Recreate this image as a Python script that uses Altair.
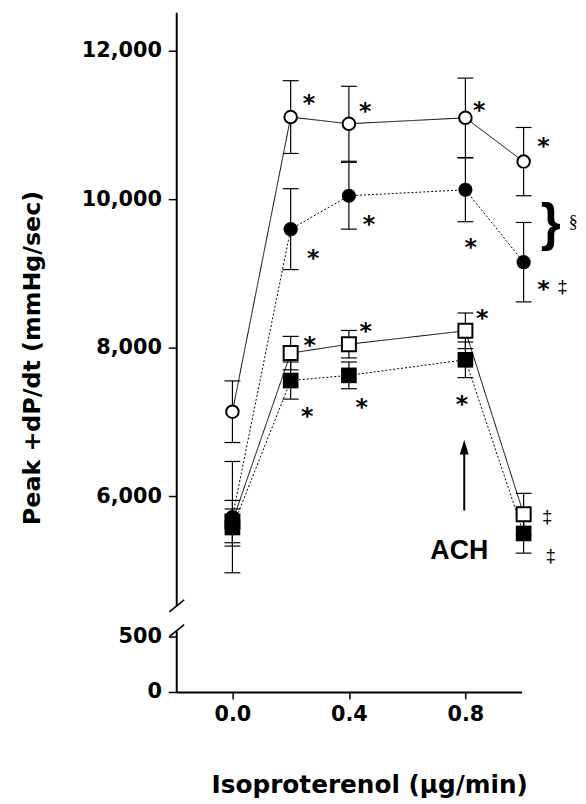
import altair as alt
import pandas as pd

# ---- data ----
x_doses = [0.0, 0.2, 0.4, 0.8, 1.0]
series_names = ["open_circle", "filled_circle", "open_square", "filled_square"]
open_circle_mean = [7140, 11110, 11020, 11100, 10510]
open_circle_sem = [415, 490, 505, 535, 460]
filled_circle_mean = [5720, 9600, 10050, 10130, 9155]
filled_circle_sem = [750, 545, 450, 430, 535]
open_square_mean = [5660, 7930, 8050, 8230, 5760]
open_square_sem = [285, 225, 185, 240, 280]
filled_square_mean = [5580, 7560, 7630, 7840, 5500]
filled_square_sem = [250, 250, 180, 240, 265]

x_ticks = [0.0, 0.4, 0.8]
y_ticks_upper = [6000, 8000, 10000, 12000]
y_ticks_lower = [0, 500]

# annotation anchors (data units)
star_x = [0.263, 0.456, 0.847, 1.068, 0.277, 0.469, 0.818, 1.068, 0.265, 0.458, 0.858, 0.257, 0.444, 0.788]
star_y = [11364, 11253, 11275, 10787, 9275, 9741, 9431, 8853, 8111, 8288, 8464, 7151, 7267, 7311]
dagger_x = [1.133, 1.081, 1.093]
dagger_y = [8800, 5711, 5187]
brace_x = [1.093]
brace_y = [9644]
section_x = [1.155]
section_y = [9684]
ach_x = [0.779]
ach_y = [5261]
arrow_x = [0.796]
arrow_y0 = [5808]
arrow_y1 = [6600]
arrow_head_y = [6664]

rows = []
for name, means, sems in [
    ("open_circle", open_circle_mean, open_circle_sem),
    ("filled_circle", filled_circle_mean, filled_circle_sem),
    ("open_square", open_square_mean, open_square_sem),
    ("filled_square", filled_square_mean, filled_square_sem),
]:
    for xv, m, s in zip(x_doses, means, sems):
        rows.append({"series": name, "x": xv, "y": m, "lo": m - s, "hi": m + s})
df = pd.DataFrame(rows)

stars = pd.DataFrame({"x": star_x, "y": star_y, "t": ["*"] * len(star_x)})
daggers = pd.DataFrame({"x": dagger_x, "y": dagger_y, "t": ["\u2021"] * len(dagger_x)})
brace = pd.DataFrame({"x": brace_x, "y": brace_y, "t": ["}"]})
section = pd.DataFrame({"x": section_x, "y": section_y, "t": ["\u00a7"]})
ach = pd.DataFrame({"x": ach_x, "y": ach_y, "t": ["ACH"]})
arrow = pd.DataFrame({"x": arrow_x, "y": arrow_y0, "y2": arrow_y1, "yh": arrow_head_y})
one = pd.DataFrame({"a": [0]})

W = 349
H_TOP = 600
H_BOT = 62

xscale = alt.Scale(domain=[-0.193, 0.993], nice=False, zero=False)
yscale_top = alt.Scale(domain=[4524, 12524], nice=False, zero=False)
yscale_bot = alt.Scale(domain=[0, 553.6], nice=False, zero=False)

y_axis_top = alt.Axis(
    values=y_ticks_upper, format=",d", title="Peak +dP/dt (mmHg/sec)",
    titleX=-138, titleY=349, titleAlign="center", titleBaseline="alphabetic",
)


def X(field="x:Q"):
    return alt.X(field, scale=xscale, axis=None)


def Y(field):
    return alt.Y(field, scale=yscale_top, axis=y_axis_top)


base = alt.Chart(df)

lines = base.mark_line(color="black", strokeWidth=1).encode(
    x=X(), y=Y("y:Q"), detail="series:N",
    strokeDash=alt.StrokeDash(
        "series:N",
        scale=alt.Scale(domain=series_names, range=[[1, 0], [2, 2], [1, 0], [2, 2]]),
        legend=None,
    ),
)
err = base.mark_rule(color="black", strokeWidth=1.2).encode(x=X(), y=Y("lo:Q"), y2="hi:Q")
cap_hi = base.mark_rule(color="black", strokeWidth=1.2, xOffset=-8, x2Offset=8).encode(
    x=X(), x2="x:Q", y=Y("hi:Q"))
cap_lo = base.mark_rule(color="black", strokeWidth=1.2, xOffset=-8, x2Offset=8).encode(
    x=X(), x2="x:Q", y=Y("lo:Q"))


def pts(name, shape, fill, size):
    return base.transform_filter(alt.datum.series == name).mark_point(
        shape=shape, filled=True, fill=fill, stroke="black",
        strokeWidth=2 if fill == "white" else 0, size=size, opacity=1,
    ).encode(x=X(), y=Y("y:Q"))


p_os = pts("open_square", "square", "white", 200)
p_fs = pts("filled_square", "square", "black", 250)
p_fc = pts("filled_circle", "circle", "black", 205)
p_oc = pts("open_circle", "circle", "white", 160)

t_stars = alt.Chart(stars).mark_text(
    font="DejaVu Sans", fontWeight="bold", fontSize=24, baseline="alphabetic",
    align="center", dy=13, color="black",
).encode(x=X(), y=Y("y:Q"), text="t:N")
t_daggers = alt.Chart(daggers).mark_text(
    font="Liberation Sans", fontSize=19, baseline="alphabetic", align="center",
    dy=5, color="black",
).encode(x=X(), y=Y("y:Q"), text="t:N")
t_brace = alt.Chart(brace).mark_text(
    font="Liberation Sans", fontWeight="bold", fontSize=52, baseline="alphabetic",
    align="center", dy=14, color="black",
).encode(x=X(), y=Y("y:Q"), text="t:N")
t_section = alt.Chart(section).mark_text(
    font="Liberation Serif", fontSize=18, baseline="middle", align="left", color="black",
).encode(x=X(), y=Y("y:Q"), text="t:N")
t_ach = alt.Chart(ach).mark_text(
    font="Liberation Sans", fontWeight="bold", fontSize=27, baseline="middle",
    align="center", color="black",
).encode(x=X(), y=Y("y:Q"), text="t:N")
arrow_shaft = alt.Chart(arrow).mark_rule(color="black", strokeWidth=2).encode(
    x=X(), y=Y("y:Q"), y2="y2:Q")
arrow_head = alt.Chart(arrow).mark_point(
    shape="M0,-1L0.6,1L-0.6,1Z", filled=True, color="black", size=225, opacity=1,
).encode(x=X(), y=Y("yh:Q"))

slash_top = alt.Chart(one).mark_rule(color="black", strokeWidth=1.6).encode(
    x=alt.value(-7), x2=alt.value(8), y=alt.value(H_TOP + 6), y2=alt.value(H_TOP - 6))

top = alt.layer(
    lines, err, cap_hi, cap_lo, p_os, p_fs, p_fc, p_oc,
    t_stars, t_daggers, t_brace, t_section, t_ach, arrow_shaft, arrow_head, slash_top,
).properties(width=W, height=H_TOP)

# ---- lower (broken) segment of the axis ----
x_axis_bot = alt.Axis(
    values=x_ticks, format=".1f", title="Isoproterenol (\u00b5g/min)",
    titleX=195, titleY=102, titleAlign="center", titleBaseline="alphabetic",
    titleFontSize=25, tickSize=7, labelPadding=5, labelFlush=False,
)
bot_pts = alt.Chart(df).mark_point(opacity=0, clip=True).encode(
    x=alt.X("x:Q", scale=xscale, axis=x_axis_bot),
    y=alt.Y("y:Q", scale=yscale_bot, axis=alt.Axis(values=y_ticks_lower, format="d", title="")),
)
slash_bot = alt.Chart(one).mark_rule(color="black", strokeWidth=1.6).encode(
    x=alt.value(-7), x2=alt.value(8), y=alt.value(6), y2=alt.value(-6))
bottom = alt.layer(bot_pts, slash_bot).properties(width=W, height=H_BOT)

chart = alt.vconcat(top, bottom, spacing=11).resolve_scale(y="independent").properties(
    padding={"left": 13, "top": 0, "right": 0, "bottom": 0}
).configure_view(
    strokeWidth=0
).configure_axis(
    domainColor="black", domainWidth=2, tickColor="black", tickWidth=1.5, tickSize=8,
    labelColor="black", labelFont="DejaVu Sans", labelFontWeight="bold", labelFontSize=21,
    labelPadding=7, titleFont="DejaVu Sans", titleFontWeight="bold", titleFontSize=24,
    titleColor="black", grid=False,
)

chart.save("out.html", embed_options={"renderer": "svg", "actions": False})
